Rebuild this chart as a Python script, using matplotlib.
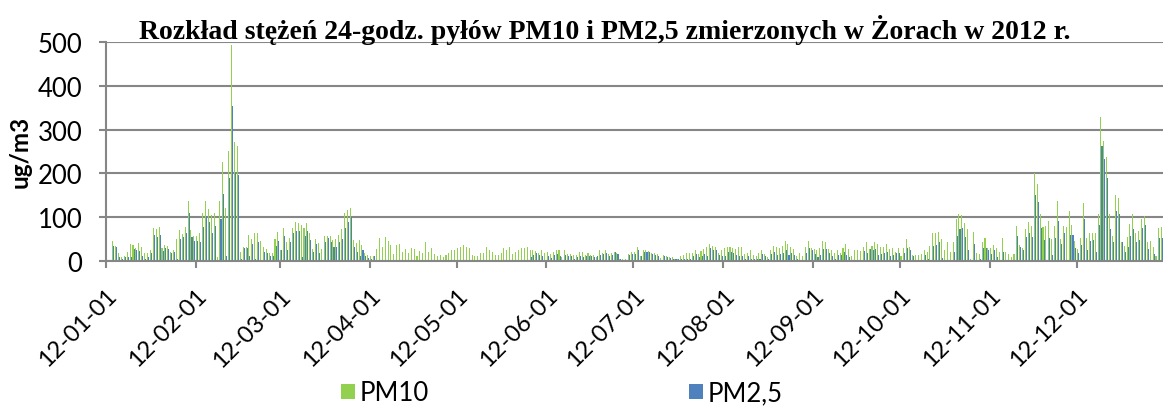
import numpy as np
import pandas as pd
import matplotlib
matplotlib.use('Agg')
import matplotlib.pyplot as plt

nan = np.nan

# daily 24h means [ug/m3]
pm10_jan = [nan, nan, 46, 35, 18, 8, 12, 21, 38, 37, 30, 40, 32, 19, 19, 25,
            75, 72, 78, 30, 36, 35, 20, 25, 50, 70, 62, 78, 136, 70, 57]
pm25_jan = [nan, nan, 34, 31, 8, 5, 8, 8, 8, 28, 26, 22, 12, 5, 10, 18,
            60, 55, 60, 22, 30, 27, 18, 20, 4, 50, 55, 65, 110, 55, 45]

pm10_feb = [58, 64, 109, 136, 119, 105, 110, 8, 136, 225, 120, 252, 493, 271, 262,
            21, 31, 31, 59, 50, 64, 65, 46, 33, 27, 18, 18, 50, 67]
pm25_feb = [45, 43, 78, 103, 88, 64, 81, 3, 95, 153, 12, 190, 355, 202, 197,
            4, 30, 29, 12, 39, 5, 43, 3, 21, 18, 11, 11, 35, 46]

pm10_mar = [26, 75, 43, 52, 75, 90, 87, 82, 75, 87, 64, 27, 50, 41, 27, 58,
            58, 56, 49, 50, 59, 73, 109, 116, 122, 49, 41, 49, 37, 18, 14]
pm25_mar = [24, 58, 26, 43, 64, 69, 69, 8, 58, 69, 49, 21, 39, 18, 3, 44,
            52, 43, 31, 33, 43, 50, 75, 90, 100, 31, 21, 11, 24, 12, 6]

pm10_apr = [11, 12, 27, 52, 33, 54, 45, 37, 16, 37, 39, 21, 27, 18, 29,
            27, 11, 23, 18, 44, 21, 29, 16, 11, 14, 8, 14, 18, 25, 25]
pm25_apr = [5, 12] + [nan] * 28

pm10_may = [30, 33, 37, 33, 29, 14, 11, 11, 18, 18, 31, 26, 20, 14, 14, 18,
            29, 24, 33, 15, 20, 24, 29, 30, 31, 24, 26, 23, 18, 24, 18]
pm25_may = [nan] * 25 + [8, 14, 18, 14, 11, 3]

pm10_jun = [20, 15, 21, 24, 24, 8, 24, 16, 16, 14, 14, 20, 21, 14, 18,
            14, 14, 8, 24, 18, 26, 16, 18, 21, 18, 5, 5, 5, 16, 20]
pm25_jun = [12, 6, 14, 16, 12, 3, 14, 12, 12, 5, 9, 12, 8, 11, 12,
            11, 8, 11, 14, 16, 18, 12, 14, 20, 16, 5, 3, 3, 14, 16]

pm10_jul = [21, 33, 12, 26, 24, 23, 18, 18, 16, 6, 14, 12, 8, 8, 5, 5,
            11, 14, 18, 18, 18, 26, 16, 23, 27, 31, 39, 35, 33, 18, 24]
pm25_jul = [16, 24, 11, 21, 21, 21, 16, 14, 11, 3, 11, 8, 6, 4, 4, 4,
            4, 4, 4, 4, 11, 16, 8, 11, 16, 11, 29, 26, 26, 14, 12]

pm10_aug = [29, 33, 33, 30, 27, 33, 33, 16, 18, 24, 14, 12, 18, 24, 16, 10,
            26, 35, 31, 30, 35, 46, 39, 33, 27, 12, 18, 11, 31, 46, 29]
pm25_aug = [11, 20, 20, 18, 14, 12, 11, 4, 12, 5, 5, 5, 5, 16, 12, 5,
            16, 21, 14, 16, 18, 26, 14, 18, 14, 5, 3, 3, 18, 30, 24]

pm10_sep = [27, 26, 29, 46, 43, 27, 26, 18, 26, 18, 29, 39, 27, 11, 24,
            24, 22, 33, 44, 27, 35, 44, 39, 31, 33, 39, 27, 29, 20, 29]
pm25_sep = [16, 8, 14, 27, 27, 18, 11, 4, 14, 14, 20, 14, 8, 3, 3,
            3, 3, 22, 18, 27, 26, 27, 14, 16, 18, 20, 12, 14, 18, 18]

pm10_oct = [11, 29, 50, 33, 14, 14, 14, 16, 26, 20, 35, 64, 64, 67, 50, 24,
            44, 21, 43, 96, 107, 105, 87, 73, 5, 67, 18, 16, 43, 52, 30]
pm25_oct = [3, 18, 30, 26, 11, 3, 3, 3, 14, 4, 3, 35, 37, 44, 6, 3,
            3, 3, 21, 58, 73, 75, 54, 24, 3, 39, 3, 4, 30, 30, 24]

pm10_nov = [29, 37, 30, 21, 52, 20, 16, 8, 16, 79, 37, 29, 73, 88, 79,
            201, 176, 107, 78, 79, 91, 50, 81, 136, 50, 79, 77, 115, 82, 46]
pm25_nov = [16, 24, 8, 3, 21, 3, 3, 3, 3, 58, 31, 26, 54, 64, 54,
            151, 135, 75, 49, 3, 53, 13, 52, 92, 39, 64, 3, 60, 59, 29]

pm10_dec = [27, 52, 132, 52, 63, 63, 63, 107, 328, 275, 238, 107, 58, 151, 143,
            43, 35, 54, 84, 107, 65, 69, 96, 102, 44, 46, 33, 12, 75, 77]
pm25_dec = [18, 37, 97, 26, 45, 48, 21, 82, 263, 233, 189, 73, 43, 114, 107,
            43, 21, 33, 56, 73, 43, 49, 75, 82, 27, 3, 16, 3, 52, 52]

pm10 = np.array(pm10_jan + pm10_feb + pm10_mar + pm10_apr + pm10_may + pm10_jun +
                pm10_jul + pm10_aug + pm10_sep + pm10_oct + pm10_nov + pm10_dec, dtype=float)
pm25 = np.array(pm25_jan + pm25_feb + pm25_mar + pm25_apr + pm25_may + pm25_jun +
                pm25_jul + pm25_aug + pm25_sep + pm25_oct + pm25_nov + pm25_dec, dtype=float)

month_starts = pd.date_range('2012-01-01', '2012-12-01', freq='MS')
tick_pos = (month_starts - month_starts[0]).days
tick_labels = month_starts.strftime('%y-%m-%d')

green = '#92D050'
blue = '#4F81BD'
gray = '#868686'

fig = plt.figure(figsize=(11.63, 4.10), dpi=100)
ax = fig.add_axes([106/1163, 1 - 262/410, 1 - 106/1163, (262 - 43)/410])

days = np.arange(len(pm10))
m10 = np.isfinite(pm10)
m25 = np.isfinite(pm25)
ax.bar(days[m10] + 0.5 - 0.18, pm10[m10], width=0.36, color=green, linewidth=0, label='PM10')
ax.bar(days[m25] + 0.5 + 0.18, pm25[m25], width=0.36, color=blue, linewidth=0, label='PM2,5')

ax.set_xlim(0, (1163 - 106) / 2.898)
ax.set_ylim(0, 500)
ax.set_yticks(range(0, 501, 100))
ax.set_xticks(tick_pos)
ax.set_xticklabels(tick_labels, rotation=45, ha='right', va='top', rotation_mode='anchor')

ax.grid(axis='y', color=gray, linewidth=1.5)
ax.set_axisbelow(True)
for s in ['top', 'right']:
    ax.spines[s].set_visible(False)
for s in ['left', 'bottom']:
    ax.spines[s].set_color(gray)
    ax.spines[s].set_linewidth(1.5)
ax.tick_params(axis='both', colors=gray, width=1.5, length=5, labelcolor='black',
               labelsize=18.5, labelfontfamily='Lato')
ax.tick_params(axis='x', pad=12, labelsize=17)
ax.tick_params(axis='y', pad=12)

fig.text(20/1163, 1 - 152/410, 'ug/m3', rotation=90, ha='center', va='center',
         fontsize=17.5, fontweight='bold', family='Lato')
fig.text(605/1163, 1 - 30/410, 'Rozkład stężeń 24-godz. pyłów PM10 i PM2,5 zmierzonych w Żorach w 2012 r.',
         ha='center', va='center', fontsize=20, fontweight='bold', family='Liberation Serif')

fig.legend(loc='center', bbox_to_anchor=(562/1163, 1 - 394/410), ncol=2, frameon=False,
           prop={'family': 'Lato', 'size': 18.5}, handlelength=0.55, handleheight=0.55,
           handletextpad=0.2, columnspacing=10.1, borderpad=0)

fig.savefig('out.png', dpi=100)
